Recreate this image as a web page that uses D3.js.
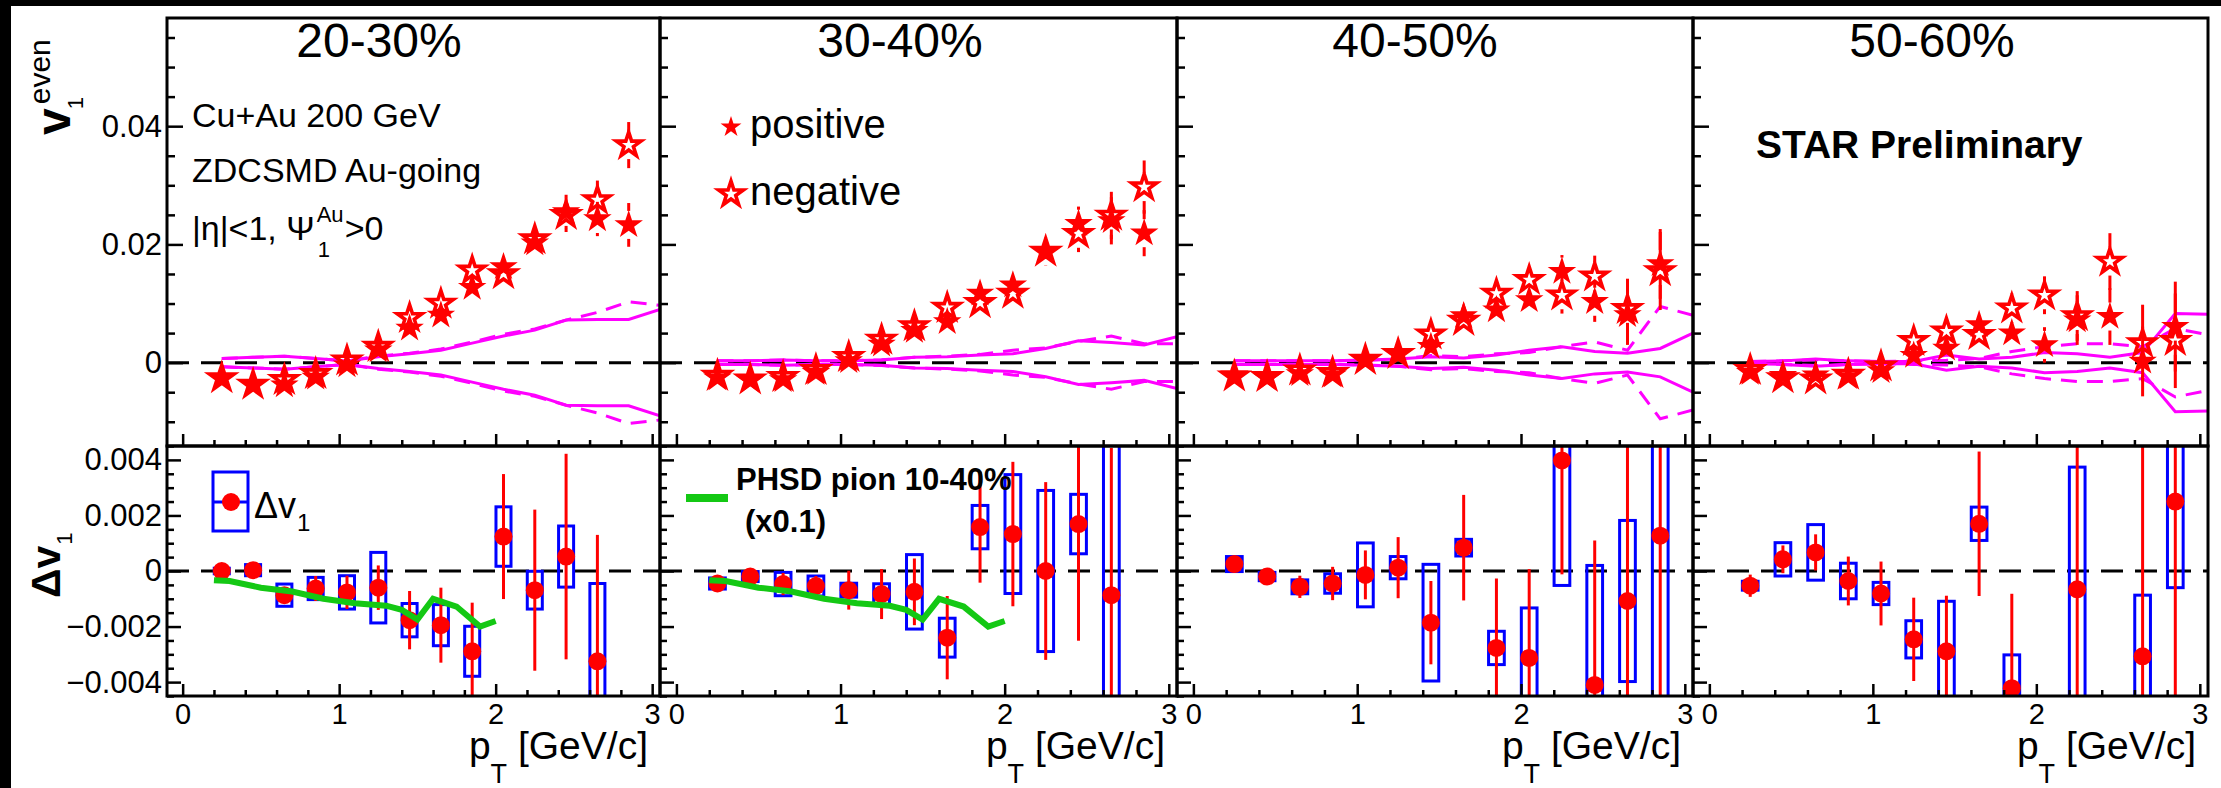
<!DOCTYPE html>
<html>
<head>
<meta charset="utf-8">
<script src="https://cdn.jsdelivr.net/npm/d3@7"></script>
<style>
  body { margin: 0; background: #fff; }
  text { font-family: "Liberation Sans", Arial, Helvetica, sans-serif; fill: #000; }
</style>
</head>
<body>
<svg id="chart" width="2221" height="788"></svg>
<script>
// ---------------- data ----------------
const pT = [0.25, 0.45, 0.65, 0.85, 1.05, 1.25, 1.45, 1.65, 1.85, 2.05, 2.25, 2.45, 2.65, 2.85];
const bandPT = [0.25, 0.45, 0.65, 0.85, 1.05, 1.25, 1.45, 1.65, 1.85, 2.05, 2.25, 2.45, 2.65, 2.85, 3.05];
const centrality = ["20-30%", "30-40%", "40-50%", "50-60%"];

// v1^even of positive particles, per centrality
const v1Pos = [
  [-0.0026, -0.0037, -0.0038, -0.0025, -0.0004, 0.0021, 0.0058, 0.0080, 0.0127, 0.0162, 0.0202, 0.0255, 0.0243, 0.0233],
  [-0.0026, -0.0030, -0.0029, -0.0017, 0.0003, 0.0031, 0.0054, 0.0069, 0.0117, 0.0131, 0.0188, 0.0235, 0.0240, 0.0219],
  [-0.0021, -0.0026, -0.0019, -0.0021, 0.0004, 0.0016, 0.0027, 0.0079, 0.0089, 0.0106, 0.0154, 0.0103, 0.0081, 0.0167],
  [-0.0017, -0.0022, -0.0021, -0.0024, -0.0014, 0.0012, 0.0024, 0.0064, 0.0050, 0.0030, 0.0072, 0.0078, 0.0002, 0.0061]
];
const v1PosErr = [
  [0.0001, 0.0001, 0.0002, 0.0002, 0.0003, 0.0004, 0.0006, 0.0008, 0.0011, 0.0014, 0.0018, 0.0029, 0.0029, 0.0037],
  [0.0001, 0.0001, 0.0002, 0.0002, 0.0003, 0.0004, 0.0006, 0.0008, 0.0011, 0.0020, 0.0024, 0.0029, 0.0040, 0.0039],
  [0.0001, 0.0001, 0.0002, 0.0003, 0.0004, 0.0005, 0.0007, 0.0009, 0.0018, 0.0022, 0.0028, 0.0034, 0.0051, 0.0059],
  [0.0002, 0.0002, 0.0003, 0.0004, 0.0005, 0.0008, 0.0010, 0.0015, 0.0022, 0.0030, 0.0042, 0.0048, 0.0059, 0.0076]
];
// v1^even of negative particles, per centrality
const v1Neg = [
  [-0.0026, -0.0037, -0.0029, -0.0019, 0.0004, 0.0027, 0.0076, 0.0100, 0.0156, 0.0150, 0.0209, 0.0250, 0.0275, 0.0368],
  [-0.0022, -0.0028, -0.0024, -0.0012, 0.0010, 0.0039, 0.0062, 0.0093, 0.0101, 0.0117, 0.0188, 0.0218, 0.0249, 0.0297],
  [-0.0023, -0.0024, -0.0013, -0.0017, 0.0005, 0.0015, 0.0048, 0.0071, 0.0117, 0.0140, 0.0114, 0.0146, 0.0091, 0.0155],
  [-0.0012, -0.0026, -0.0028, -0.0020, -0.0006, 0.0037, 0.0053, 0.0047, 0.0092, 0.0114, 0.0079, 0.0171, 0.0033, 0.0037]
];
const v1NegErr = [
  [0.0001, 0.0001, 0.0002, 0.0002, 0.0003, 0.0004, 0.0006, 0.0008, 0.0011, 0.0014, 0.0018, 0.0029, 0.0033, 0.0039],
  [0.0001, 0.0001, 0.0002, 0.0002, 0.0003, 0.0004, 0.0006, 0.0008, 0.0011, 0.0020, 0.0024, 0.0031, 0.0040, 0.0045],
  [0.0001, 0.0001, 0.0002, 0.0003, 0.0004, 0.0005, 0.0007, 0.0009, 0.0022, 0.0022, 0.0031, 0.0035, 0.0051, 0.0066],
  [0.0002, 0.0002, 0.0003, 0.0004, 0.0005, 0.0008, 0.0010, 0.0015, 0.0025, 0.0032, 0.0042, 0.0048, 0.0065, 0.0080]
];

// systematic envelopes of v1^even (drawn as +/- curves)
const bandSolid = [
  [0.0007, 0.0009, 0.0011, 0.0007, 0.0003, 0.0010, 0.0015, 0.0021, 0.0033, 0.0045, 0.0055, 0.0072, 0.0073, 0.0073, 0.0090],
  [0.0003, 0.0003, 0.00045, 0.0003, 0.0003, 0.00045, 0.0009, 0.0010, 0.0013, 0.0015, 0.0024, 0.0037, 0.0034, 0.0030, 0.0044],
  [0.0003, 0.0003, 0.0003, 0.0003, 0.00045, 0.0006, 0.0010, 0.0008, 0.0013, 0.0021, 0.0027, 0.0019, 0.0016, 0.0024, 0.0050],
  [0.0002, 0.0003, 0.0006, 0.0003, 0.0002, 0.0002, 0.0013, 0.0006, 0.0009, 0.0017, 0.0015, 0.0009, 0.0017, 0.0083, 0.0082]
];
const bandDashed = [
  [0.0007, 0.0009, 0.0011, 0.0007, 0.0003, 0.0011, 0.0016, 0.0023, 0.0035, 0.0048, 0.0057, 0.0072, 0.0085, 0.0103, 0.0097],
  [0.0003, 0.0003, 0.00045, 0.0003, 0.0003, 0.0005, 0.0009, 0.0011, 0.0014, 0.0021, 0.0025, 0.0036, 0.0045, 0.0032, 0.0032],
  [0.0003, 0.0003, 0.0003, 0.0003, 0.0004, 0.0006, 0.0012, 0.0010, 0.0015, 0.0017, 0.0027, 0.0035, 0.0021, 0.0095, 0.0080],
  [0.0002, 0.0003, 0.0005, 0.0003, 0.0002, 0.0003, 0.0004, 0.0007, 0.0019, 0.0027, 0.0032, 0.0032, 0.0027, 0.0058, 0.0047]
];

// delta v1 with statistical and systematic uncertainties (null: outside the frame)
const dV1 = [
  [0.0000, 0.00003, -0.00087, -0.00063, -0.00077, -0.00060, -0.00177, -0.00195, -0.00289, 0.00124, -0.00069, 0.00052, -0.00325, null],
  [-0.00045, -0.00020, -0.00047, -0.00054, -0.00069, -0.00083, -0.00075, -0.00240, 0.00158, 0.00133, 0.0000, 0.00169, -0.00087, null],
  [0.00025, -0.00020, -0.00057, -0.00045, -0.00014, 0.00012, -0.00186, 0.00084, -0.00277, -0.00313, 0.00398, -0.00410, -0.00108, 0.00127],
  [-0.00053, 0.00042, 0.00067, -0.00036, -0.00081, -0.00246, -0.00289, 0.00170, -0.00422, null, -0.00066, null, -0.00307, 0.00250]
];
const dV1Stat = [
  [0.0001, 0.0001, 0.0002, 0.00045, 0.0006, 0.0008, 0.00105, 0.00135, 0.00175, 0.00225, 0.0029, 0.0037, 0.00455, null],
  [0.0001, 0.0001, 0.0004, 0.00036, 0.0007, 0.0009, 0.0012, 0.0015, 0.0020, 0.0026, 0.0032, 0.0042, 0.0053, null],
  [0.0001, 0.0003, 0.0004, 0.0006, 0.00088, 0.0011, 0.0015, 0.0019, 0.0025, 0.0032, 0.0041, 0.0052, 0.0056, 0.0065],
  [0.0004, 0.0005, 0.00065, 0.00088, 0.00115, 0.0015, 0.0020, 0.0026, 0.0034, null, 0.0052, null, 0.0076, 0.0070]
];
const dV1Sys = [
  [0.0001, 0.0002, 0.0004, 0.0004, 0.0006, 0.00127, 0.0006, 0.00074, 0.0009, 0.00107, 0.00068, 0.0011, 0.0028, null],
  [0.0002, 0.00018, 0.00042, 0.00036, 0.00025, 0.00037, 0.00134, 0.0007, 0.00078, 0.00214, 0.0029, 0.00107, 0.0060, null],
  [0.00027, 0.00015, 0.00025, 0.00035, 0.00115, 0.0004, 0.0021, 0.0003, 0.0006, 0.0018, 0.0045, 0.0043, 0.0029, 0.0065],
  [0.00016, 0.0006, 0.0010, 0.00064, 0.0004, 0.00067, 0.0018, 0.0006, 0.0012, null, 0.0044, null, 0.0022, 0.0031]
];

// PHSD pion 10-40% (x0.1)
const phsdPT  = [0.2, 0.3, 0.5, 0.7, 0.9, 1.1, 1.3, 1.4, 1.5, 1.6, 1.75, 1.9, 2.0];
const phsdDV1 = [-0.00033, -0.00036, -0.0006, -0.00074, -0.0010, -0.00116, -0.00125, -0.0014, -0.00175, -0.0010, -0.00128, -0.0020, -0.0018];

const upperMajor = [0, 0.02, 0.04];
const lowerMajor = [-0.004, -0.002, 0, 0.002, 0.004];
const xMajor = [0, 1, 2, 3];

// ---------------- layout ----------------
const W = 2221, H = 788;
const edges = [167, 660, 1177, 1693, 2208];
const yTop = 18, yMid = 446, yBot = 696;
const titleCx = [379, 900, 1415, 1932];
const RED = "#ff0000", BLUE = "#0000ff", MAGENTA = "#ff00ff", GREEN = "#14c814";

const svg = d3.select("#chart");
svg.append("rect").attr("width", W).attr("height", H).attr("fill", "#fff");
svg.append("rect").attr("x", 0).attr("y", 0).attr("width", W).attr("height", 6).attr("fill", "#000");
svg.append("rect").attr("x", 0).attr("y", 0).attr("width", 11).attr("height", H).attr("fill", "#000");
const defs = svg.append("defs");

const starR = 15;
const starFilled = d3.symbol().type(d3.symbolStar).size(starR * starR / 0.8908);
const starOpen = d3.symbol().type(d3.symbolStar).size(13 * 13 / 0.8908);

function vbar(g, xp, yHi, yLo, yc, gap, w) {
  if (yc - yHi > gap) g.append("line").attr("x1", xp).attr("x2", xp).attr("y1", yHi).attr("y2", yc - gap)
    .attr("stroke", RED).attr("stroke-width", w);
  if (yLo - yc > gap) g.append("line").attr("x1", xp).attr("x2", xp).attr("y1", yc + gap).attr("y2", yLo)
    .attr("stroke", RED).attr("stroke-width", w);
}

function styleAxis(g, size) {
  g.select(".domain").remove();
  g.selectAll(".tick line").attr("stroke", "#000").attr("stroke-width", 2.5);
  g.attr("font-family", null).attr("font-size", size);
  g.selectAll(".tick text").attr("fill", "#000");
}

const offMajor = (v, step) => Math.abs(v - Math.round(v / step) * step) > 1e-9;

centrality.forEach((label, i) => {
  const x = d3.scaleLinear().domain([-0.1, 3.05]).range([edges[i], edges[i + 1]]);
  const yU = d3.scaleLinear().domain([-0.0141, 0.0583]).range([yMid, yTop]);
  const yL = d3.scaleLinear().domain([-0.0045, 0.0045]).range([yBot, yMid]);
  const pw = edges[i + 1] - edges[i];

  defs.append("clipPath").attr("id", "cu" + i).append("rect")
    .attr("x", edges[i]).attr("y", yTop).attr("width", pw).attr("height", yMid - yTop);
  defs.append("clipPath").attr("id", "cl" + i).append("rect")
    .attr("x", edges[i]).attr("y", yMid).attr("width", pw).attr("height", yBot - yMid);

  // ---------- upper pad: v1^even ----------
  const gu = svg.append("g").attr("clip-path", `url(#cu${i})`);
  gu.append("line").attr("x1", edges[i]).attr("x2", edges[i + 1]).attr("y1", yU(0)).attr("y2", yU(0))
    .attr("stroke", "#000").attr("stroke-width", 3).attr("stroke-dasharray", "22,12");

  [[bandSolid[i], null], [bandDashed[i], "16,10"]].forEach(([arr, dash]) => {
    [1, -1].forEach(sgn => {
      gu.append("path").datum(arr)
        .attr("d", d3.line().x((d, k) => x(bandPT[k])).y(d => yU(sgn * d)))
        .attr("fill", "none").attr("stroke", MAGENTA).attr("stroke-width", 3)
        .attr("stroke-dasharray", dash);
    });
  });

  pT.forEach((p, k) => {
    const xp = x(p);
    [[v1Pos[i][k], v1PosErr[i][k]], [v1Neg[i][k], v1NegErr[i][k]]].forEach(([v, e]) => {
      vbar(gu, xp, yU(v + e), yU(v - e), yU(v), 14, 3);
    });
  });
  pT.forEach((p, k) => {
    gu.append("path").attr("d", starFilled()).attr("transform", `translate(${x(p)},${yU(v1Pos[i][k])})`)
      .attr("fill", RED);
  });
  pT.forEach((p, k) => {
    gu.append("path").attr("d", starOpen()).attr("transform", `translate(${x(p)},${yU(v1Neg[i][k])})`)
      .attr("fill", "none").attr("stroke", RED).attr("stroke-width", 3.6);
  });

  // ---------- lower pad: delta v1 ----------
  const gl = svg.append("g").attr("clip-path", `url(#cl${i})`);
  gl.append("line").attr("x1", edges[i]).attr("x2", edges[i + 1]).attr("y1", yL(0)).attr("y2", yL(0))
    .attr("stroke", "#000").attr("stroke-width", 3).attr("stroke-dasharray", "22,12");

  pT.forEach((p, k) => {
    const v = dV1[i][k];
    if (v === null) return;
    const s = dV1Sys[i][k];
    gl.append("rect").attr("x", x(p - 0.048)).attr("width", x(p + 0.048) - x(p - 0.048))
      .attr("y", yL(v + s)).attr("height", yL(v - s) - yL(v + s))
      .attr("fill", "none").attr("stroke", BLUE).attr("stroke-width", 3);
  });
  pT.forEach((p, k) => {
    const v = dV1[i][k];
    if (v === null) return;
    const e = dV1Stat[i][k];
    gl.append("line").attr("x1", x(p)).attr("x2", x(p)).attr("y1", yL(v + e)).attr("y2", yL(v - e))
      .attr("stroke", RED).attr("stroke-width", 3);
    gl.append("circle").attr("cx", x(p)).attr("cy", yL(v)).attr("r", 9).attr("fill", RED);
  });

  if (i < 2) {
    gl.append("path").datum(phsdDV1)
      .attr("d", d3.line().x((d, k) => x(phsdPT[k])).y(d => yL(d)))
      .attr("fill", "none").attr("stroke", GREEN).attr("stroke-width", 6).attr("stroke-linejoin", "miter");
  }

  // ---------- frames ----------
  svg.append("rect").attr("x", edges[i]).attr("y", yTop).attr("width", pw).attr("height", yMid - yTop)
    .attr("fill", "none").attr("stroke", "#000").attr("stroke-width", 3);
  svg.append("rect").attr("x", edges[i]).attr("y", yMid).attr("width", pw).attr("height", yBot - yMid)
    .attr("fill", "none").attr("stroke", "#000").attr("stroke-width", 3);

  // ---------- axes ----------
  const upperMinor = d3.range(-0.01, 0.0551, 0.005).filter(v => offMajor(v, 0.02));
  const lowerMinor = d3.range(-0.0045, 0.00451, 0.0005).filter(v => offMajor(v, 0.002));
  const xMinor = d3.range(0, 3.01, 0.2).filter(v => offMajor(v, 1));
  const fmtU = d => d === 0 ? "0" : d3.format(".2f")(d);
  const fmtL = d => d === 0 ? "0" : d3.format(".3f")(d);

  const gYU = svg.append("g").attr("transform", `translate(${edges[i]},0)`)
    .call(d3.axisLeft(yU).tickValues(upperMajor).tickSizeInner(-16).tickSizeOuter(0).tickPadding(5)
      .tickFormat(i === 0 ? fmtU : ""));
  styleAxis(gYU, 31);
  styleAxis(svg.append("g").attr("transform", `translate(${edges[i]},0)`)
    .call(d3.axisLeft(yU).tickValues(upperMinor).tickSizeInner(-8).tickSizeOuter(0).tickFormat("")), 31);

  const gYL = svg.append("g").attr("transform", `translate(${edges[i]},0)`)
    .call(d3.axisLeft(yL).tickValues(lowerMajor).tickSizeInner(-14).tickSizeOuter(0).tickPadding(5)
      .tickFormat(i === 0 ? fmtL : ""));
  styleAxis(gYL, 31);
  styleAxis(svg.append("g").attr("transform", `translate(${edges[i]},0)`)
    .call(d3.axisLeft(yL).tickValues(lowerMinor).tickSizeInner(-7).tickSizeOuter(0).tickFormat("")), 31);

  [yMid, yBot].forEach((yy, j) => {
    const gx = svg.append("g").attr("transform", `translate(0,${yy})`)
      .call(d3.axisBottom(x).tickValues(xMajor).tickSizeInner(-12).tickSizeOuter(0).tickPadding(7)
        .tickFormat(j === 1 ? d3.format("d") : ""));
    styleAxis(gx, 29);
    styleAxis(svg.append("g").attr("transform", `translate(0,${yy})`)
      .call(d3.axisBottom(x).tickValues(xMinor).tickSizeInner(-6).tickSizeOuter(0).tickFormat("")), 29);
  });

  // ---------- titles ----------
  svg.append("text").attr("x", titleCx[i]).attr("y", 57).attr("text-anchor", "middle")
    .attr("font-size", 48).text(label);

  const xt = svg.append("text").attr("x", edges[i + 1] - 12).attr("y", 759).attr("text-anchor", "end")
    .attr("font-size", 39);
  xt.append("tspan").text("p");
  xt.append("tspan").attr("dy", 24).attr("font-size", 27).text("T");
  xt.append("tspan").attr("dy", -24).text(" [GeV/c]");
});

// ---------- y-axis titles ----------
{
  const g = svg.append("g").attr("transform", "translate(70,135) rotate(-90)");
  const m = g.append("text").attr("x", 0).attr("y", 0).attr("font-size", 48).attr("font-weight", "bold").text("v");
  const L = m.node().getComputedTextLength();
  g.append("text").attr("x", L + 4).attr("y", -20).attr("font-size", 30).text("even");
  g.append("text").attr("x", L - 1).attr("y", 13).attr("font-size", 22).text("1");
}
{
  const g = svg.append("g").attr("transform", "translate(60,598) rotate(-90)");
  const m = g.append("text").attr("x", 0).attr("y", 0).attr("font-size", 41).attr("font-weight", "bold").text("Δv");
  const L = m.node().getComputedTextLength();
  g.append("text").attr("x", L + 1).attr("y", 12).attr("font-size", 22).text("1");
}

// ---------- annotations, upper pads ----------
svg.append("text").attr("x", 192).attr("y", 127).attr("font-size", 34).text("Cu+Au 200 GeV");
svg.append("text").attr("x", 192).attr("y", 182).attr("font-size", 34).text("ZDCSMD Au-going");
{
  const t = svg.append("text").attr("x", 192).attr("y", 240).attr("font-size", 34).text("|η|<1, Ψ");
  const L = t.node().getComputedTextLength();
  svg.append("text").attr("x", 192 + L + 2).attr("y", 222).attr("font-size", 22).text("Au");
  svg.append("text").attr("x", 192 + L + 3).attr("y", 257).attr("font-size", 22).text("1");
  svg.append("text").attr("x", 192 + L + 30).attr("y", 240).attr("font-size", 34).text(">0");
}

svg.append("path").attr("d", d3.symbol().type(d3.symbolStar).size(11 * 11 / 0.8908)())
  .attr("transform", "translate(731,127)").attr("fill", RED);
svg.append("text").attr("x", 750).attr("y", 138).attr("font-size", 40).text("positive");
svg.append("path").attr("d", starOpen()).attr("transform", "translate(731,194)")
  .attr("fill", "none").attr("stroke", RED).attr("stroke-width", 3.6);
svg.append("text").attr("x", 750).attr("y", 205).attr("font-size", 40).text("negative");

svg.append("text").attr("x", 1756).attr("y", 158).attr("font-size", 39).attr("font-weight", "bold")
  .text("STAR Preliminary");

// ---------- legends, lower pads ----------
svg.append("rect").attr("x", 213).attr("y", 472).attr("width", 35).attr("height", 59)
  .attr("fill", "none").attr("stroke", BLUE).attr("stroke-width", 3);
svg.append("line").attr("x1", 213).attr("x2", 248).attr("y1", 502).attr("y2", 502)
  .attr("stroke", BLUE).attr("stroke-width", 3);
svg.append("circle").attr("cx", 231).attr("cy", 502).attr("r", 9).attr("fill", RED);
{
  const t = svg.append("text").attr("x", 254).attr("y", 518).attr("font-size", 36).text("Δv");
  const L = t.node().getComputedTextLength();
  svg.append("text").attr("x", 254 + L + 1).attr("y", 531).attr("font-size", 24).text("1");
}

svg.append("line").attr("x1", 686).attr("x2", 728).attr("y1", 498).attr("y2", 498)
  .attr("stroke", GREEN).attr("stroke-width", 8);
svg.append("text").attr("x", 736).attr("y", 490).attr("font-size", 31).attr("font-weight", "bold")
  .text("PHSD pion 10-40%");
svg.append("text").attr("x", 745).attr("y", 532).attr("font-size", 31).attr("font-weight", "bold")
  .text("(x0.1)");
</script>
</body>
</html>
